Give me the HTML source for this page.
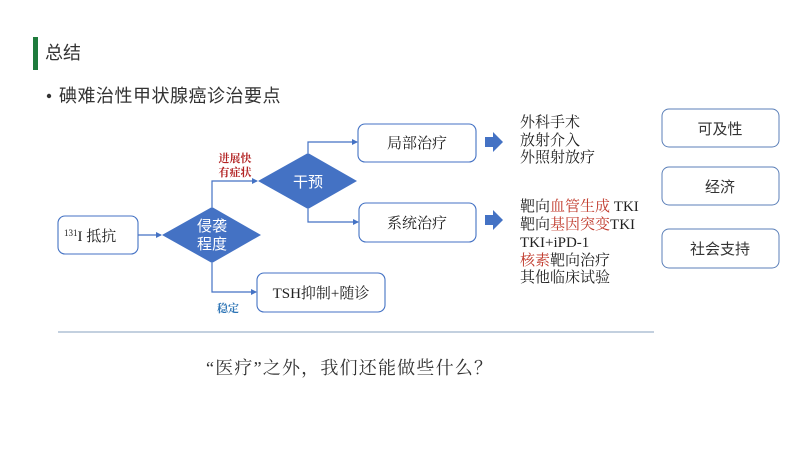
<!DOCTYPE html>
<html><head><meta charset="utf-8"><style>
html,body{margin:0;padding:0;background:#fff;}
svg{display:block;}
.s{font-family:"Liberation Sans","Noto Sans CJK SC",sans-serif;}
.r{font-family:"Liberation Serif","Noto Serif CJK SC",serif;}
</style></head><body>
<svg width="800" height="450" viewBox="0 0 800 450" xmlns="http://www.w3.org/2000/svg">
<defs><marker id="a" markerWidth="6" markerHeight="6" refX="5" refY="3" orient="auto" markerUnits="userSpaceOnUse"><path d="M0,0 L6,3 L0,6 z" fill="#4472c4"/></marker></defs>
<rect x="33" y="37" width="5" height="33" fill="#1e7b3c"/>
<text x="45" y="59" class="s" font-size="18" fill="#333">总结</text>
<circle cx="49" cy="96" r="2.2" fill="#333"/>
<text x="59" y="102" class="s" font-size="18" fill="#333" letter-spacing="0.5">碘难治性甲状腺癌诊治要点</text>

<g fill="#fff" stroke="#4472c4" stroke-width="1.1">
<rect x="58" y="216" width="80" height="38" rx="7"/>
<rect x="358" y="124" width="118" height="38" rx="7"/>
<rect x="359" y="203" width="117" height="39" rx="7"/>
<rect x="257" y="273" width="128" height="39" rx="7"/>
</g>
<g fill="#fff" stroke="#5b7fb8" stroke-width="1">
<rect x="662" y="109" width="117" height="38" rx="7"/>
<rect x="662" y="167" width="117" height="38" rx="7"/>
<rect x="662" y="229" width="117" height="39" rx="7"/>
</g>
<polygon points="162,235 212,207 261,235 212,263" fill="#4472c4"/>
<polygon points="258,181 308,153 357,181 308,209" fill="#4472c4"/>
<g stroke="#4472c4" stroke-width="1.2" fill="none" marker-end="url(#a)">
<path d="M138,235 H161"/>
<path d="M212,207 V181 H257"/>
<path d="M308,153 V142 H357"/>
<path d="M308,209 V222 H358"/>
<path d="M212,263 V292 H256"/>
</g>
<path d="M485,137 h8 v-5 l10,10 l-10,10 v-5 h-8 z" fill="#4472c4"/>
<path d="M485,215 h8 v-5 l10,10 l-10,10 v-5 h-8 z" fill="#4472c4"/>

<text x="64" y="241" class="r" font-size="15" fill="#222"><tspan font-size="9" dy="-5">131</tspan><tspan dy="5">I 抵抗</tspan></text>
<text x="212" y="231" class="s" font-size="15" fill="#fff" text-anchor="middle">侵袭</text>
<text x="212" y="249" class="s" font-size="15" fill="#fff" text-anchor="middle">程度</text>
<text x="308" y="187" class="s" font-size="15" fill="#fff" text-anchor="middle">干预</text>
<text x="235" y="162" class="r" font-size="11" font-weight="bold" fill="#b22222" text-anchor="middle">进展快</text>
<text x="235" y="176" class="r" font-size="11" font-weight="bold" fill="#b22222" text-anchor="middle">有症状</text>
<text x="228" y="312" class="r" font-size="11" font-weight="bold" fill="#2e75b6" text-anchor="middle">稳定</text>
<text x="417" y="148" class="r" font-size="15" fill="#222" text-anchor="middle">局部治疗</text>
<text x="417" y="228" class="r" font-size="15" fill="#222" text-anchor="middle">系统治疗</text>
<text x="321" y="298" class="r" font-size="15" fill="#222" text-anchor="middle">TSH抑制+随诊</text>

<g class="r" font-size="15" fill="#222">
<text x="520" y="127">外科手术</text>
<text x="520" y="145">放射介入</text>
<text x="520" y="162">外照射放疗</text>
<text x="520" y="211">靶向<tspan fill="#c0392b">血管生成</tspan> TKI</text>
<text x="520" y="229">靶向<tspan fill="#c0392b">基因突变</tspan>TKI</text>
<text x="520" y="247">TKI+iPD-1</text>
<text x="520" y="265"><tspan fill="#c0392b">核素</tspan>靶向治疗</text>
<text x="520" y="282">其他临床试验</text>
</g>
<g class="s" font-size="15" fill="#333" text-anchor="middle">
<text x="720" y="134">可及性</text>
<text x="720" y="192">经济</text>
<text x="720" y="254">社会支持</text>
</g>
<line x1="58" y1="332" x2="654" y2="332" stroke="#9fb3cc" stroke-width="1.3"/>
<text x="206" y="374" class="r" font-size="18" fill="#333" letter-spacing="1.2">“医疗”之外，我们还能做些什么？</text>
</svg>
</body></html>
